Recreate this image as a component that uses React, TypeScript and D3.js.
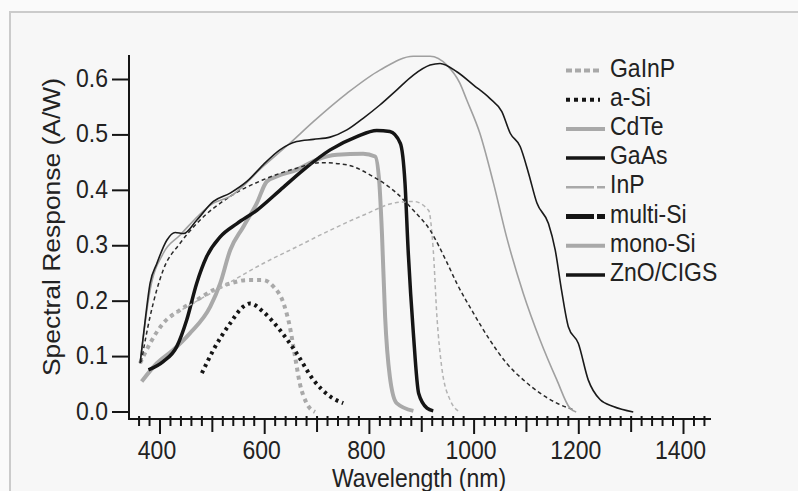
import React from "react";
import * as d3 from "d3";

// ---- data (wavelength nm, spectral response A/W) ----
const gainpWl = [362, 381, 406, 438, 470, 502, 534, 566, 597, 617, 636, 648, 658, 667, 680, 696];
const gainpResp = [0.088, 0.124, 0.16, 0.184, 0.202, 0.22, 0.232, 0.238, 0.238, 0.226, 0.196, 0.154, 0.1, 0.052, 0.016, 0];

const asiWl = [480, 502, 534, 559, 572, 597, 629, 661, 693, 725, 750];
const asiResp = [0.07, 0.112, 0.16, 0.19, 0.196, 0.181, 0.148, 0.106, 0.058, 0.028, 0.016];

const cdteWl = [365, 394, 425, 457, 496, 515, 534, 559, 585, 604, 623, 661, 699, 738, 788, 811, 819, 824, 830, 839, 852, 884];
const cdteResp = [0.055, 0.088, 0.112, 0.142, 0.19, 0.232, 0.292, 0.334, 0.377, 0.416, 0.425, 0.437, 0.455, 0.464, 0.466, 0.461, 0.413, 0.322, 0.172, 0.064, 0.016, 0.002];

const gaasWl = [378, 406, 432, 451, 470, 489, 515, 547, 585, 629, 674, 725, 776, 814, 839, 859, 868, 874, 884, 894, 910, 922];
const gaasResp = [0.076, 0.091, 0.118, 0.166, 0.232, 0.28, 0.316, 0.34, 0.364, 0.4, 0.437, 0.473, 0.497, 0.508, 0.506, 0.485, 0.413, 0.292, 0.142, 0.034, 0.007, 0.002];

const inpWl = [420, 470, 508, 597, 661, 725, 788, 852, 884, 913, 922, 929, 938, 954, 973];
const inpResp = [0.172, 0.2, 0.22, 0.268, 0.298, 0.328, 0.355, 0.378, 0.38, 0.364, 0.292, 0.172, 0.082, 0.022, 0];

const multiWl = [364, 381, 406, 438, 470, 534, 597, 661, 706, 757, 801, 852, 884, 916, 948, 967, 999, 1030, 1062, 1094, 1126, 1158, 1190];
const multiResp = [0.09, 0.172, 0.256, 0.304, 0.34, 0.389, 0.419, 0.44, 0.45, 0.446, 0.428, 0.395, 0.364, 0.328, 0.27, 0.232, 0.178, 0.13, 0.088, 0.058, 0.034, 0.016, 0.004];

const monoWl = [362, 381, 406, 438, 502, 534, 597, 648, 693, 757, 820, 884, 916, 948, 973, 986, 1011, 1037, 1062, 1094, 1126, 1158, 1183, 1195];
const monoResp = [0.088, 0.22, 0.286, 0.319, 0.377, 0.389, 0.443, 0.485, 0.524, 0.575, 0.617, 0.642, 0.642, 0.626, 0.593, 0.563, 0.503, 0.413, 0.316, 0.214, 0.13, 0.058, 0.007, 0];

const cigsWl = [362, 371, 381, 394, 413, 429, 445, 470, 502, 534, 566, 597, 629, 661, 693, 725, 757, 788, 820, 852, 884, 916, 935, 967, 999, 1030, 1053, 1069, 1088, 1104, 1120, 1142, 1155, 1167, 1180, 1199, 1218, 1241, 1266, 1304];
const cigsResp = [0.088, 0.16, 0.232, 0.268, 0.31, 0.324, 0.322, 0.346, 0.38, 0.395, 0.416, 0.446, 0.473, 0.488, 0.492, 0.496, 0.509, 0.53, 0.554, 0.581, 0.608, 0.626, 0.629, 0.614, 0.59, 0.566, 0.542, 0.503, 0.479, 0.431, 0.377, 0.34, 0.292, 0.22, 0.154, 0.124, 0.058, 0.022, 0.01, 0];

const seriesNames = ["GaInP", "a-Si", "CdTe", "GaAs", "InP", "multi-Si", "mono-Si", "ZnO/CIGS"];
const xTickLabels = [400, 600, 800, 1000, 1200, 1400];
const yTickLabels = [0.0, 0.1, 0.2, 0.3, 0.4, 0.5, 0.6];

const GRAY = "#a9a9a9";
const DARK = "#151515";
const FONT = "'Liberation Sans', Arial, sans-serif";

type Style = { color: string; width: number; dash?: string };

const series = [
  { name: seriesNames[0], wl: gainpWl, r: gainpResp, style: { color: GRAY, width: 4, dash: "4,4" }, leg: { color: GRAY, width: 4, dash: "6,3" } },
  { name: seriesNames[1], wl: asiWl, r: asiResp, style: { color: DARK, width: 4, dash: "3,4" }, leg: { color: DARK, width: 4, dash: "4,4" } },
  { name: seriesNames[2], wl: cdteWl, r: cdteResp, style: { color: GRAY, width: 4 }, leg: { color: GRAY, width: 4 } },
  { name: seriesNames[3], wl: gaasWl, r: gaasResp, style: { color: DARK, width: 3.5 }, leg: { color: DARK, width: 3.5 } },
  { name: seriesNames[4], wl: inpWl, r: inpResp, style: { color: "#b3b3b3", width: 1.5, dash: "4,3" }, leg: { color: GRAY, width: 2.5, dash: "28,3,8" } },
  { name: seriesNames[5], wl: multiWl, r: multiResp, style: { color: "#2a2a2a", width: 1.5, dash: "4,3" }, leg: { color: DARK, width: 5, dash: "28,3,8" } },
  { name: seriesNames[6], wl: monoWl, r: monoResp, style: { color: "#a0a0a0", width: 1.6 }, leg: { color: GRAY, width: 4 } },
  { name: seriesNames[7], wl: cigsWl, r: cigsResp, style: { color: "#1a1a1a", width: 1.6 }, leg: { color: DARK, width: 3.5 } },
];

const W = 798;
const H = 491;

export default function App() {
  const x = d3.scaleLinear().domain([400, 1400]).range([160, 683.5]);
  const y = d3.scaleLinear().domain([0, 0.6]).range([412, 79.5]);
  const axisY = 419;
  const axisX = 129;
  const xMin = x.invert(128);
  const xMax = x.invert(711);
  const yTop = y.invert(55);

  const line = d3
    .line<[number, number]>()
    .x((d) => x(d[0]))
    .y((d) => y(d[1]))
    .curve(d3.curveMonotoneX);

  const minorTicks = d3.range(360, 1441, 20);

  const sy = 1.1;

  return (
    <svg width={W} height={H} style={{ position: "absolute", left: 0, top: 0 }} fontFamily={FONT}>
      <rect x={0} y={0} width={W} height={H} fill="#fafafa" />
      <rect x={10} y={12} width={W} height={H} fill="#f7f7f7" stroke="#cbcbcb" strokeWidth={2} />

      {/* curves */}
      {series.map((s) => (
        <path
          key={s.name}
          d={line(s.wl.map((w, i) => [w, s.r[i]] as [number, number])) || ""}
          fill="none"
          stroke={s.style.color}
          strokeWidth={s.style.width}
          strokeDasharray={s.style.dash}
          strokeLinejoin="round"
        />
      ))}

      {/* y axis */}
      <line x1={axisX} x2={axisX} y1={y(yTop)} y2={axisY} stroke={DARK} strokeWidth={2} />
      {yTickLabels.map((t) => (
        <g key={"yt" + t}>
          <line x1={112} x2={axisX} y1={y(t)} y2={y(t)} stroke={DARK} strokeWidth={2} />
          <text
            transform={`translate(108,${y(t) + 7.5}) scale(1,${sy})`}
            textAnchor="end"
            fontSize={23}
            fill="#222"
          >
            {t.toFixed(1)}
          </text>
        </g>
      ))}

      {/* x axis */}
      <line x1={x(xMin)} x2={x(xMax)} y1={axisY} y2={axisY} stroke={DARK} strokeWidth={2} />
      {minorTicks.map((t) => {
        const major = t % 200 === 0;
        const mid = !major && t % 100 === 0;
        return (
          <line
            key={"xt" + t}
            x1={x(t)}
            x2={x(t)}
            y1={major ? axisY : axisY - 3}
            y2={major ? axisY + 15 : mid ? axisY + 13 : axisY + 7}
            stroke={DARK}
            strokeWidth={2}
          />
        );
      })}
      {xTickLabels.map((t) => (
        <text
          key={"xl" + t}
          transform={`translate(${x(t) - 3},459) scale(1,${sy})`}
          textAnchor="middle"
          fontSize={23}
          fill="#222"
        >
          {t}
        </text>
      ))}

      <text transform={`translate(419,487) scale(1,${sy})`} textAnchor="middle" fontSize={23} fill="#222">
        Wavelength (nm)
      </text>
      <text
        transform="translate(60,227) rotate(-90)"
        textAnchor="middle"
        fontSize={23}
        fill="#222"
        textLength={298}
        lengthAdjust="spacingAndGlyphs"
      >
        Spectral Response (A/W)
      </text>

      {/* legend */}
      {series.map((s, i) => {
        const base = 76.5 + i * 29.2;
        const ly = base - 6;
        const st: Style = s.leg;
        return (
          <g key={"lg" + s.name}>
            <line
              x1={566}
              x2={i < 2 ? 600 : 605}
              y1={ly}
              y2={ly}
              stroke={st.color}
              strokeWidth={st.width}
              strokeDasharray={st.dash}
            />
            <text transform={`translate(610,${base}) scale(1,${sy})`} fontSize={23} fill="#222">
              {s.name}
            </text>
          </g>
        );
      })}
    </svg>
  );
}
